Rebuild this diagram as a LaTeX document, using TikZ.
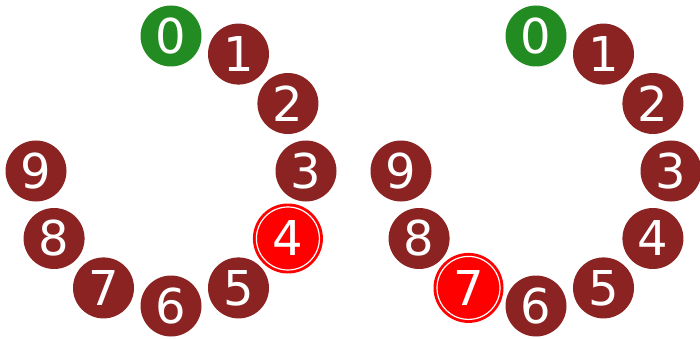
\documentclass[tikz,border=0pt]{standalone}
\usepackage{fontspec}
\setmainfont{DejaVu Sans}
\definecolor{dred}{RGB}{139,35,35}
\definecolor{dgreen}{RGB}{34,139,34}
\definecolor{bred}{RGB}{255,0,0}
\begin{document}
\begin{tikzpicture}[x=1pt,y=-1pt,
  num/.style={circle,fill=dred,minimum size=61pt,inner sep=0pt,text=white,font=\fontsize{48}{48}\selectfont},
  start/.style={num,fill=dgreen},
  hit/.style={num,fill=bred,minimum size=70pt},
  ring/.style={draw=white,line width=1.2pt}]
\useasboundingbox (0,0) rectangle (700,339);
\foreach \side/\cx/\hl in {l/171/4, r/536/7}{
  \foreach \i in {0,...,9}{
    \pgfmathsetmacro{\ang}{90-30*\i}
    \ifnum\i=0
      \node[start] (\side\i) at ({\cx+135*cos(\ang)},{171-135*sin(\ang)}) {\i};
    \else\ifnum\i=\hl
      \node[hit] (\side\i) at ({\cx+135*cos(\ang)},{171-135*sin(\ang)}) {\i};
    \else
      \node[num] (\side\i) at ({\cx+135*cos(\ang)},{171-135*sin(\ang)}) {\i};
    \fi\fi
  }
}
\draw[ring] (l4.center) circle (31.5pt);
\draw[ring] (r7.center) circle (31.5pt);
\end{tikzpicture}
\end{document}
